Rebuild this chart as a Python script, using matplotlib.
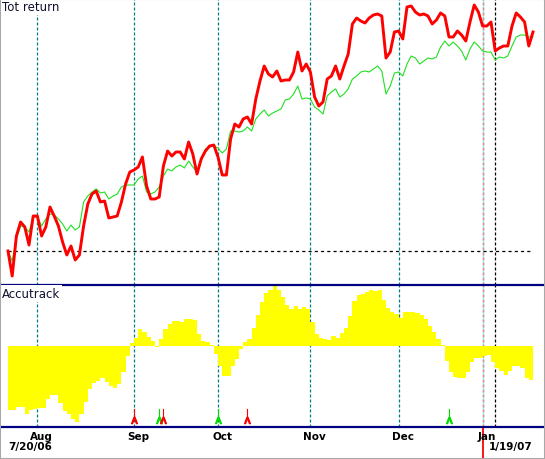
import numpy as np
import matplotlib.pyplot as plt
import matplotlib.transforms as mtransforms
from matplotlib.patches import Rectangle

# Total return (%) per trading day, 7/20/06 .. 1/19/07
tot_return = [0.0, -2.5, 1.5, 2.9, 2.4, 0.6, 3.5, 3.5, 1.5, 2.4,
              4.4, 3.5, 2.5, 0.9, -0.4, 0.5, -0.9, -0.4, 2.5, 4.7,
              5.7, 6.0, 4.9, 5.0, 3.3, 3.4, 3.5, 4.9, 6.7, 7.9,
              8.1, 8.4, 9.4, 6.5, 5.2, 5.2, 5.4, 8.5, 10.0, 9.5,
              9.9, 9.9, 9.2, 10.9, 9.7, 7.7, 9.2, 10.0, 10.5, 10.6,
              9.4, 7.6, 7.6, 11.2, 12.7, 12.4, 13.2, 13.4, 12.7, 15.2,
              17.0, 18.5, 17.7, 17.4, 18.0, 17.0, 17.1, 17.1, 17.9, 19.9,
              18.0, 18.7, 17.9, 15.4, 14.5, 14.9, 17.2, 17.5, 18.5, 17.2,
              18.5, 19.7, 22.7, 23.3, 23.0, 22.8, 23.3, 23.6, 23.7, 23.5,
              19.3, 19.9, 21.9, 22.0, 21.2, 24.4, 24.5, 23.9, 23.6, 23.7,
              23.5, 22.7, 23.1, 23.8, 23.5, 21.4, 21.4, 22.0, 21.6, 21.0,
              22.9, 24.6, 23.9, 22.5, 22.5, 22.9, 20.0, 20.3, 20.5, 20.5,
              22.5, 23.8, 23.4, 22.9, 20.5, 21.9]

# Benchmark total return (%)
benchmark = [0.0, -1.0, 1.2, 2.5, 2.4, 1.9, 3.4, 3.4, 2.5, 3.2,
             3.7, 3.6, 3.2, 2.7, 2.0, 2.6, 2.1, 2.4, 4.9, 5.5,
             5.9, 6.2, 5.8, 5.9, 5.2, 5.5, 5.7, 6.4, 6.6, 6.6,
             6.6, 7.2, 7.5, 5.9, 5.7, 5.9, 6.4, 7.5, 8.2, 8.0,
             8.4, 8.6, 8.3, 9.0, 8.4, 7.9, 9.0, 10.2, 10.4, 10.5,
             10.3, 9.8, 10.2, 12.0, 12.0, 11.9, 12.0, 12.4, 12.0, 13.2,
             13.7, 14.1, 13.5, 13.8, 14.0, 14.2, 15.1, 15.2, 15.7, 16.5,
             15.2, 15.3, 15.2, 14.4, 14.1, 13.7, 15.5, 15.9, 16.2, 15.4,
             15.7, 16.2, 17.2, 17.5, 17.9, 18.0, 17.9, 18.2, 18.5, 18.0,
             15.7, 16.5, 17.8, 17.9, 17.5, 18.7, 19.5, 19.3, 18.7, 19.0,
             19.3, 19.2, 19.4, 20.4, 21.0, 20.5, 20.9, 20.5, 20.0, 19.1,
             20.2, 20.9, 20.5, 20.0, 19.9, 19.9, 19.1, 19.4, 19.3, 19.5,
             20.5, 21.4, 21.6, 21.6, 21.4, 21.4]

# Accutrack score, one bar per day
accutrack = [-64, -64, -61, -61, -68, -64, -63, -62, -62, -53,
             -49, -49, -57, -65, -68, -73, -76, -68, -56, -43,
             -37, -35, -32, -36, -40, -42, -38, -26, -10, 3,
             8, 17, 14, 9, 5, -1, 7, 17, 22, 25,
             25, 24, 27, 27, 26, 12, 5, 4, 1, -8,
             -20, -30, -30, -20, -13, -3, 4, 7, 18, 31,
             44, 53, 56, 61, 56, 49, 41, 37, 40, 37,
             39, 37, 24, 12, 8, 7, 6, 10, 8, 13,
             18, 30, 45, 51, 52, 54, 56, 55, 56, 46,
             38, 34, 32, 28, 34, 34, 34, 33, 31, 27,
             20, 14, 7, 1, -15, -26, -31, -32, -32, -26,
             -16, -12, -12, -10, -9, -16, -22, -25, -29, -25,
             -20, -20, -22, -32, -34]

months = ['Aug', 'Sep', 'Oct', 'Nov', 'Dec', 'Jan']
month_first = [8, 31, 51, 73, 94, 114]   # first trading day of each month
signal_days = [30, 36, 37, 50, 57, 105]
signal_kind = ['sell', 'buy', 'sell', 'buy', 'sell', 'buy']
cursor_day = 113
marker_day = 116
start_label = '7/20/06'
end_label = '1/19/07'

days = np.arange(len(tot_return))

fig = plt.figure(figsize=(5.45, 4.6), dpi=100)
ax1 = fig.add_axes([0, 174 / 460, 1, 286 / 460])
ax2 = fig.add_axes([0, 32 / 460, 1, 142 / 460])

for ax in (ax1, ax2):
    ax.set_xlim(-8 / 4.2, 537 / 4.2)
    ax.set_xticks([])
    ax.set_yticks([])
    for s in ax.spines.values():
        s.set_visible(False)
    # month separators
    for m in month_first:
        ax.axvline(m - 1, color='#008080', ls=(0, (2.4, 1.6)), lw=0.9, zorder=1)
    ax.axvline(cursor_day, color='#80ffff', lw=0.9, zorder=1.5)
    ax.axvline(cursor_day, color='#ff8080', ls=(0, (2.4, 1.6)), lw=0.9, zorder=1.6)
    ax.axvline(marker_day, color='black', ls=(0, (2.4, 1.6)), lw=0.9, zorder=1.5)

# top panel
ax1.set_ylim(-3.4, 25.2)
ax1.hlines(0, days[0], days[-1], colors='black', linestyles=(0, (2.5, 2.5)), lw=0.9)
ax1.plot(days, benchmark, color='#20e020', lw=0.8, zorder=3)
ax1.plot(days, tot_return, color='#ff0000', lw=2.1, zorder=4)
ax1.text(0.004, 0.996, 'Tot return', transform=ax1.transAxes, ha='left', va='top',
         fontsize=8.5, color='#101030',
         bbox=dict(facecolor='white', edgecolor='none', pad=1.2), zorder=6)

# bottom panel
ax2.set_ylim(-81, 61)
ax2.bar(days[:len(accutrack)], accutrack, width=1, align='edge',
        color='#ffff00', linewidth=0, zorder=2)
for side in ('top', 'bottom'):
    ax2.spines[side].set_visible(True)
    ax2.spines[side].set_color('#000080')
    ax2.spines[side].set_linewidth(1.6)
ax2.text(0.004, 0.985, 'Accutrack', transform=ax2.transAxes, ha='left', va='top',
         fontsize=8.5, color='#101030',
         bbox=dict(facecolor='white', edgecolor='none', pad=1.2), zorder=6)

tr = mtransforms.blended_transform_factory(ax2.transData, ax2.transAxes)
for d, k in zip(signal_days, signal_kind):
    c = '#ff0000' if k == 'sell' else '#00dd00'
    ax2.plot([d, d], [0.06, 0.125], transform=tr, color=c, lw=0.8, zorder=3)
    ax2.plot(d, 0.05, marker=r'$\Lambda$', ms=4.5, color=c, transform=tr, zorder=3)

ax2.plot([cursor_day, cursor_day], [-0.23, 0], transform=tr, color='#ff0000',
         lw=1.3, clip_on=False)

for name, m in zip(months, month_first):
    ax2.text(m, -0.063, name, transform=tr, ha='center', va='center',
             fontsize=7.5, fontweight='bold')
ax2.text(days[0], -0.137, start_label, transform=tr, ha='left', va='center',
         fontsize=7.5, fontweight='bold')
ax2.text(days[-1], -0.137, end_label, transform=tr, ha='right', va='center',
         fontsize=7.5, fontweight='bold')

fig.patches.append(Rectangle((0, 0), 1, 1, transform=fig.transFigure, fill=False,
                             edgecolor='#a8a8a8', lw=1.5))

fig.savefig('out.png', dpi=100)
